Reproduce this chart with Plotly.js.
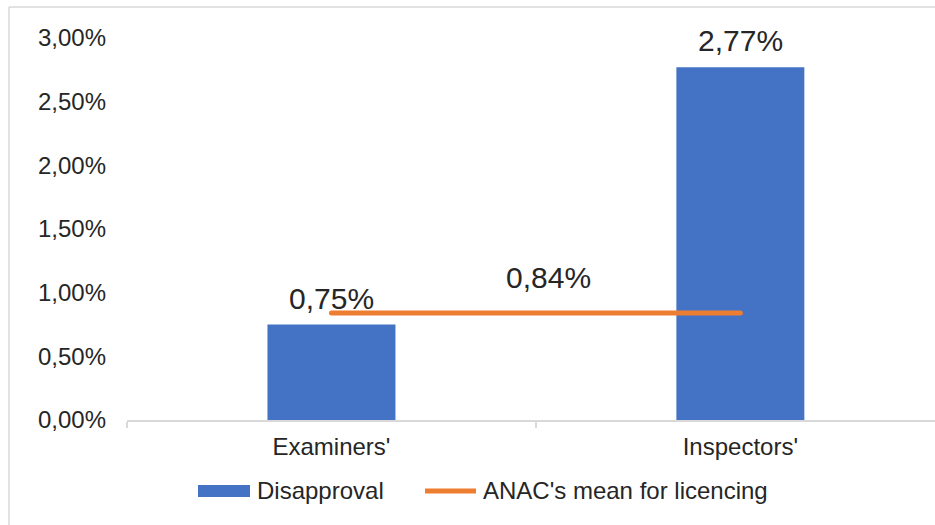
<!DOCTYPE html>
<html>
<head>
<meta charset="utf-8">
<script src="https://cdn.plot.ly/plotly-3.0.1.min.js"></script>
<style>
html,body{margin:0;padding:0;background:#fff;}
#chart{width:935px;height:525px;}
.scatterlayer path.js-line{stroke-linecap:round;}
</style>
</head>
<body>
<div id="chart"></div>
<script>
// Data
var categories = ["Examiners'", "Inspectors'"];
var disapproval = [0.0075, 0.0277];
var anacMean = [0.0084, 0.0084];
var seriesNames = ["Disapproval", "ANAC's mean for licencing"];

var BLUE = "#4472C4", ORANGE = "#ED7D31", GRAY = "#D9D9D9", TXT = "#262626";
var FONT = "Liberation Sans, Arial, sans-serif";

// pixel helpers for decoration placement
var L = 127, T = 38, W = 808, H = 382;
function px(x){ return (x - L) / W; }
function py(y){ return (T + H - y) / H; }

function fmt(v){ return (v * 100).toFixed(2).replace('.', ',') + '%'; }

var traces = [
  {
    type: 'bar', x: categories, y: disapproval, name: seriesNames[0],
    marker: {color: BLUE}, width: 0.313, hoverinfo: 'skip'
  },
  {
    type: 'scatter', mode: 'lines', x: categories, y: anacMean, name: seriesNames[1],
    line: {color: ORANGE, width: 5}, hoverinfo: 'skip'
  }
];

var annotations = [];
for (var i = 0; i < categories.length; i++) {
  annotations.push({
    x: categories[i], y: disapproval[i], xref: 'x', yref: 'y',
    text: fmt(disapproval[i]), showarrow: false, yanchor: 'bottom', yshift: 8,
    font: {family: FONT, size: 30, color: TXT}
  });
}
// label for the mean line (centred on the line)
annotations.push({
  x: 0.5, y: anacMean[0], xref: 'x', yref: 'y',
  text: fmt(anacMean[0]), showarrow: false, yanchor: 'bottom', yshift: 17, xshift: 13,
  font: {family: FONT, size: 30, color: TXT}
});
// custom legend text
annotations.push({
  x: px(255), y: py(491), xref: 'paper', yref: 'paper', xanchor: 'left', yanchor: 'middle',
  text: seriesNames[0], showarrow: false, font: {family: FONT, size: 24, color: TXT}
});
annotations.push({
  x: px(481), y: py(491), xref: 'paper', yref: 'paper', xanchor: 'left', yanchor: 'middle',
  text: seriesNames[1], showarrow: false, font: {family: FONT, size: 24, color: TXT}
});

var shapes = [
  // legend swatches
  {type: 'rect', xref: 'paper', yref: 'paper', x0: px(198), x1: px(250), y0: py(497), y1: py(485),
   fillcolor: BLUE, line: {width: 0}},
  {type: 'line', xref: 'paper', yref: 'paper', x0: px(425), x1: px(476), y0: py(491), y1: py(491),
   line: {color: ORANGE, width: 5}},
  // chart area border (left and top)
  {type: 'line', xref: 'paper', yref: 'paper', x0: px(9), x1: px(9), y0: py(7), y1: py(530),
   line: {color: GRAY, width: 1.5}},
  {type: 'line', xref: 'paper', yref: 'paper', x0: px(9), x1: px(940), y0: py(7), y1: py(7),
   line: {color: GRAY, width: 1.5}}
];

var layout = {
  width: 935, height: 525,
  margin: {l: L, r: 0, t: T, b: 525 - T - H, pad: 0},
  paper_bgcolor: '#fff', plot_bgcolor: '#fff',
  separators: ',.',
  showlegend: false,
  font: {family: FONT, size: 24, color: TXT},
  xaxis: {
    type: 'category', range: [-0.5, 1.476],
    showline: true, linecolor: GRAY, linewidth: 2,
    ticks: 'outside', tickson: 'boundaries', ticklen: 6, tickcolor: GRAY, tickwidth: 2,
    showgrid: false, zeroline: false,
    tickfont: {family: FONT, size: 24, color: TXT},
    ticklabelstandoff: 4
  },
  yaxis: {
    range: [0, 0.03], tickvals: [0, 0.005, 0.01, 0.015, 0.02, 0.025, 0.03],
    tickformat: '.2%', showgrid: false, zeroline: false, showline: false, ticks: '',
    tickfont: {family: FONT, size: 24, color: TXT},
    ticklabelstandoff: 20
  },
  annotations: annotations,
  shapes: shapes
};

Plotly.newPlot('chart', traces, layout, {staticPlot: true, displayModeBar: false});
</script>
</body>
</html>
